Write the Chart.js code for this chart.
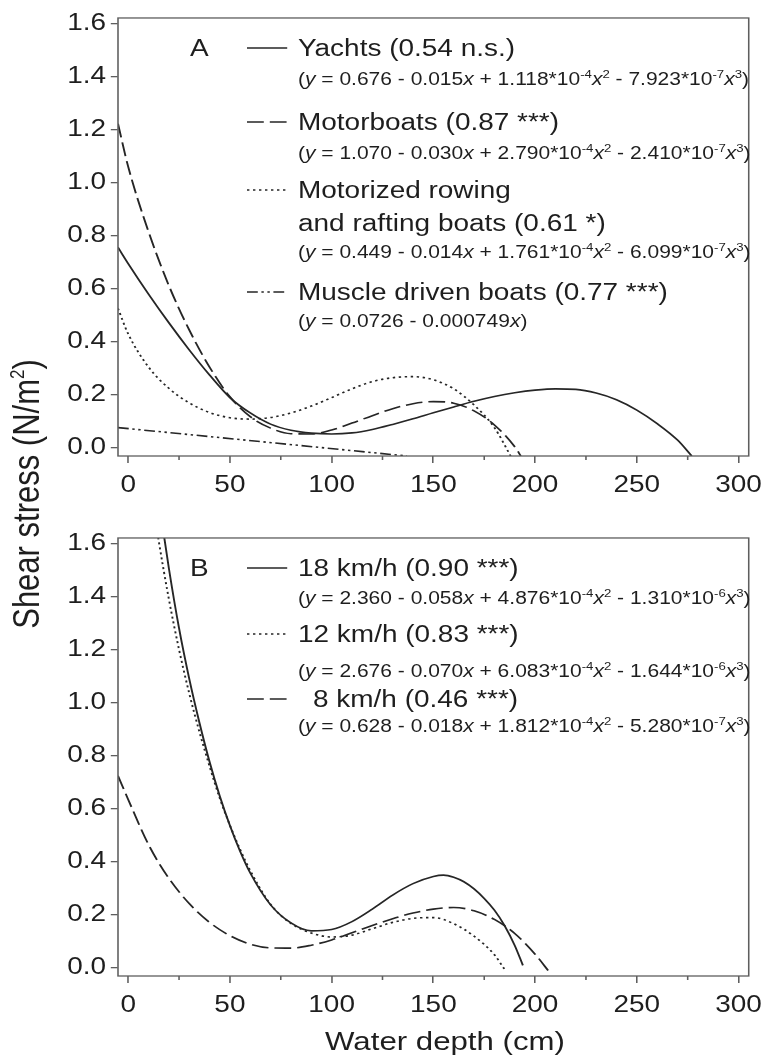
<!DOCTYPE html>
<html>
<head>
<meta charset="utf-8">
<script src="https://cdn.jsdelivr.net/npm/chart.js@4.4.1/dist/chart.umd.min.js"></script>
<style>
  body { margin: 0; background: #fff; }
  .panel { position: absolute; left: 0; }
  #panelA { top: 0; }
  #panelB { top: 520px; }
  #yTitle {
    position: absolute; left: -171px; top: 474px; width: 400px; height: 40px;
    line-height: 40px; text-align: center; white-space: nowrap; color: #1e1e1e;
    font: 31px "Liberation Sans", Arial, sans-serif;
    transform: rotate(-90deg) scaleY(1.2);
  }
  #yTitle sup { font-size: 17px; vertical-align: 0; position: relative; top: -12px; }
</style>
</head>
<body>
<canvas id="panelA" class="panel" width="773" height="520"></canvas>
<canvas id="panelB" class="panel" width="773" height="539"></canvas>
<div id="yTitle">Shear stress (N/m<sup>2</sup>)</div>
<script>
// the source figure is stretched sideways, so the charts are laid out narrower and drawn stretched
const STRETCH = 1.2;
const PAGE_W = 773;
const FAMILY = '"Liberation Sans", Arial, sans-serif';
const LINE = '#262626';
const FRAME = '#5e5e5e';
const TEXT = '#1e1e1e';

const xTicks = [0, 50, 100, 150, 200, 250, 300];
const xMinorTicks = [25, 75, 125, 175, 225, 275];
const yTicks = [0, 0.2, 0.4, 0.6, 0.8, 1.0, 1.2, 1.4, 1.6];

// Panel A - boat types
const yachtDepth = [-5, 0, 10, 20, 30, 40, 50, 60, 70, 80, 90, 100, 110, 120, 130, 140, 150, 160, 170, 180, 190, 200, 210, 220, 230, 240, 250, 260, 270, 277];
const yachtStress = [0.756, 0.695, 0.58, 0.472, 0.37, 0.275, 0.19, 0.132, 0.09, 0.067, 0.056, 0.053, 0.057, 0.07, 0.089, 0.11, 0.133, 0.155, 0.176, 0.194, 0.208, 0.218, 0.223, 0.221, 0.207, 0.182, 0.143, 0.092, 0.03, -0.03];

const motorDepth = [-5, 0, 10, 20, 30, 40, 50, 60, 70, 80, 90, 100, 110, 120, 130, 140, 150, 160, 170, 180, 190, 193];
const motorStress = [1.222, 1.06, 0.815, 0.612, 0.445, 0.305, 0.193, 0.118, 0.075, 0.054, 0.053, 0.068, 0.094, 0.122, 0.148, 0.167, 0.175, 0.169, 0.14, 0.087, 0.005, -0.03];

const rowingDepth = [-5, 0, 10, 20, 30, 40, 50, 60, 70, 80, 90, 100, 110, 120, 130, 140, 150, 160, 170, 180, 188];
const rowingStress = [0.526, 0.43, 0.305, 0.225, 0.17, 0.134, 0.114, 0.109, 0.115, 0.132, 0.158, 0.19, 0.223, 0.25, 0.265, 0.269, 0.257, 0.223, 0.162, 0.077, -0.03];

const muscleDepth = [-5, 137];
const muscleStress = [0.077, -0.03];

// Panel B - motorboat speeds
const fastDepth = [17, 20, 25, 30, 35, 40, 45, 50, 55, 60, 70, 80, 90, 100, 110, 120, 130, 140, 150, 155, 160, 165, 170, 175, 180, 185, 190, 194];
const fastStress = [1.66, 1.506, 1.28, 1.09, 0.925, 0.777, 0.648, 0.537, 0.44, 0.358, 0.238, 0.17, 0.14, 0.145, 0.175, 0.222, 0.275, 0.318, 0.345, 0.35, 0.342, 0.325, 0.298, 0.262, 0.218, 0.16, 0.085, 0.01];

const midDepth = [14, 15, 20, 25, 30, 35, 40, 45, 50, 55, 60, 70, 80, 90, 100, 110, 120, 130, 140, 150, 160, 170, 180, 185];
const midStress = [1.66, 1.61, 1.39, 1.2, 1.035, 0.89, 0.76, 0.64, 0.538, 0.447, 0.367, 0.24, 0.168, 0.132, 0.117, 0.124, 0.148, 0.172, 0.187, 0.19, 0.167, 0.12, 0.05, -0.005];

const slowDepth = [-5, 0, 10, 20, 30, 40, 50, 60, 70, 80, 90, 100, 110, 120, 130, 140, 150, 160, 170, 180, 190, 200, 207];
const slowStress = [0.724, 0.635, 0.465, 0.338, 0.243, 0.172, 0.122, 0.09, 0.076, 0.075, 0.086, 0.106, 0.133, 0.16, 0.186, 0.207, 0.222, 0.228, 0.216, 0.183, 0.13, 0.052, -0.015];

const seriesA = [
    { depth: yachtDepth, stress: yachtStress, dash: [] },
    { depth: motorDepth, stress: motorStress, dash: [14, 5] },
    { depth: rowingDepth, stress: rowingStress, dash: [2, 3] },
    { depth: muscleDepth, stress: muscleStress, dash: [9, 3, 2, 3, 2, 3] }
];

const seriesB = [
    { depth: fastDepth, stress: fastStress, dash: [] },
    { depth: midDepth, stress: midStress, dash: [2, 3] },
    { depth: slowDepth, stress: slowStress, dash: [14, 5] }
];

// legend rows: dy below the plot top; _x_ = italic, ^{..} = superscript
const legendA = [
    { dy: 30, sample: 0, text: 'Yachts (0.54 n.s.)' },
    { dy: 61, eq: '(_y_ = 0.676 - 0.015_x_ + 1.118*10^{-4}_x_^{2} - 7.923*10^{-7}_x_^{3})' },
    { dy: 104, sample: 1, text: 'Motorboats (0.87 ***)' },
    { dy: 135, eq: '(_y_ = 1.070 - 0.030_x_ + 2.790*10^{-4}_x_^{2} - 2.410*10^{-7}_x_^{3})' },
    { dy: 172, sample: 2, text: 'Motorized rowing' },
    { dy: 205, text: 'and rafting boats (0.61 *)' },
    { dy: 234, eq: '(_y_ = 0.449 - 0.014_x_ + 1.761*10^{-4}_x_^{2} - 6.099*10^{-7}_x_^{3})' },
    { dy: 274, sample: 3, text: 'Muscle driven boats (0.77 ***)' },
    { dy: 303, eq: '(_y_ = 0.0726 - 0.000749_x_)' }
];

const legendB = [
    { dy: 30, sample: 0, text: '18 km/h (0.90 ***)' },
    { dy: 60, eq: '(_y_ = 2.360 - 0.058_x_ + 4.876*10^{-4}_x_^{2} - 1.310*10^{-6}_x_^{3})' },
    { dy: 96, sample: 1, text: '12 km/h (0.83 ***)' },
    { dy: 133, eq: '(_y_ = 2.676 - 0.070_x_ + 6.083*10^{-4}_x_^{2} - 1.644*10^{-6}_x_^{3})' },
    { dy: 161, sample: 2, text: '8 km/h (0.46 ***)', indent: 12.5 },
    { dy: 188, eq: '(_y_ = 0.628 - 0.018_x_ + 1.812*10^{-4}_x_^{2} - 5.280*10^{-7}_x_^{3})' }
];

function drawRich(ctx, str, x, yMid, size) {
    const base = yMid + size * 0.36;
    str.split(/(_[^_]+_|\^\{[^}]+\})/).forEach(part => {
        if (!part) return;
        let txt = part;
        let font = size + 'px ' + FAMILY;
        let dy = 0;
        if (part[0] === '_') {
            txt = part.slice(1, -1);
            font = 'italic ' + font;
        } else if (part[0] === '^') {
            txt = part.slice(2, -1);
            font = Math.round(size * 0.62) + 'px ' + FAMILY;
            dy = -size * 0.42;
        }
        ctx.font = font;
        ctx.fillText(txt, x, base + dy);
        x += ctx.measureText(txt).width;
    });
}

function decorPlugin(letter, rows, series, withXTitle) {
    return {
        id: 'panelDecor',
        afterInit(chart) {
            chart.width = PAGE_W / STRETCH;
        },
        beforeDraw(chart) {
            chart.ctx.setTransform(STRETCH, 0, 0, 1, 0, 0);
        },
        afterDraw(chart) {
            const { ctx, chartArea: area, scales } = chart;
            ctx.save();
            ctx.strokeStyle = FRAME;
            ctx.lineWidth = 1.3;
            ctx.strokeRect(area.left, area.top, area.right - area.left, area.bottom - area.top);

            ctx.beginPath();
            xMinorTicks.forEach(v => {
                const px = scales.x.getPixelForValue(v);
                ctx.moveTo(px, area.bottom);
                ctx.lineTo(px, area.bottom + 4);
            });
            ctx.stroke();

            ctx.fillStyle = TEXT;
            ctx.textAlign = 'left';
            ctx.textBaseline = 'alphabetic';
            drawRich(ctx, letter, area.left + 60, area.top + 30, 23.3);

            rows.forEach(row => {
                const y = area.top + row.dy;
                if (row.sample !== undefined) {
                    ctx.save();
                    ctx.strokeStyle = LINE;
                    ctx.lineWidth = 1.6;
                    ctx.setLineDash(series[row.sample].dash);
                    ctx.beginPath();
                    ctx.moveTo(area.left + 107.5, y);
                    ctx.lineTo(area.left + 141, y);
                    ctx.stroke();
                    ctx.restore();
                }
                if (row.text) drawRich(ctx, row.text, area.left + 150 + (row.indent || 0), y, 23.3);
                if (row.eq) drawRich(ctx, row.eq, area.left + 150, y, 17.5);
            });

            if (withXTitle) {
                ctx.font = '26px ' + FAMILY;
                ctx.textAlign = 'center';
                ctx.textBaseline = 'middle';
                ctx.fillText('Water depth (cm)', area.left + 272.5, area.bottom + 67);
            }
            ctx.restore();
        }
    };
}

function makePanel(id, letter, series, rows, xAxisHeight, withXTitle) {
    const ctx = document.getElementById(id).getContext('2d');
    return new Chart(ctx, {
        type: 'line',
        data: {
            datasets: series.map(s => ({
                data: s.depth.map((d, i) => ({ x: d, y: s.stress[i] })),
                borderColor: LINE,
                borderWidth: 1.6,
                borderDash: s.dash,
                pointRadius: 0,
                fill: false,
                cubicInterpolationMode: 'monotone'
            }))
        },
        options: {
            responsive: false,
            animation: false,
            events: [],
            layout: { padding: { left: 0, right: 20 / STRETCH, top: 13, bottom: 0 } },
            plugins: {
                legend: { display: false },
                tooltip: { enabled: false }
            },
            scales: {
                x: {
                    type: 'linear',
                    min: -5,
                    max: 305,
                    afterBuildTicks: s => { s.ticks = xTicks.map(v => ({ value: v })); },
                    afterFit: s => { s.height = xAxisHeight; },
                    border: { display: false },
                    grid: { drawOnChartArea: false, tickLength: 7, color: FRAME, lineWidth: 1.3 },
                    ticks: { color: TEXT, font: { size: 23.3 }, padding: 9, maxRotation: 0, autoSkip: false }
                },
                y: {
                    type: 'linear',
                    min: -0.03,
                    max: 1.62,
                    afterBuildTicks: s => { s.ticks = yTicks.map(v => ({ value: v })); },
                    afterFit: s => { s.width = 118 / STRETCH; },
                    border: { display: false },
                    grid: { drawOnChartArea: false, tickLength: 6, color: FRAME, lineWidth: 1.3 },
                    ticks: { color: TEXT, font: { size: 23.3 }, padding: 4, autoSkip: false, callback: v => Number(v).toFixed(1) }
                }
            }
        },
        plugins: [decorPlugin(letter, rows, series, withXTitle)]
    });
}

Chart.defaults.font.family = FAMILY;
Chart.defaults.color = TEXT;

makePanel('panelA', 'A', seriesA, legendA, 64, false);
makePanel('panelB', 'B', seriesB, legendB, 83, true);
</script>
</body>
</html>
